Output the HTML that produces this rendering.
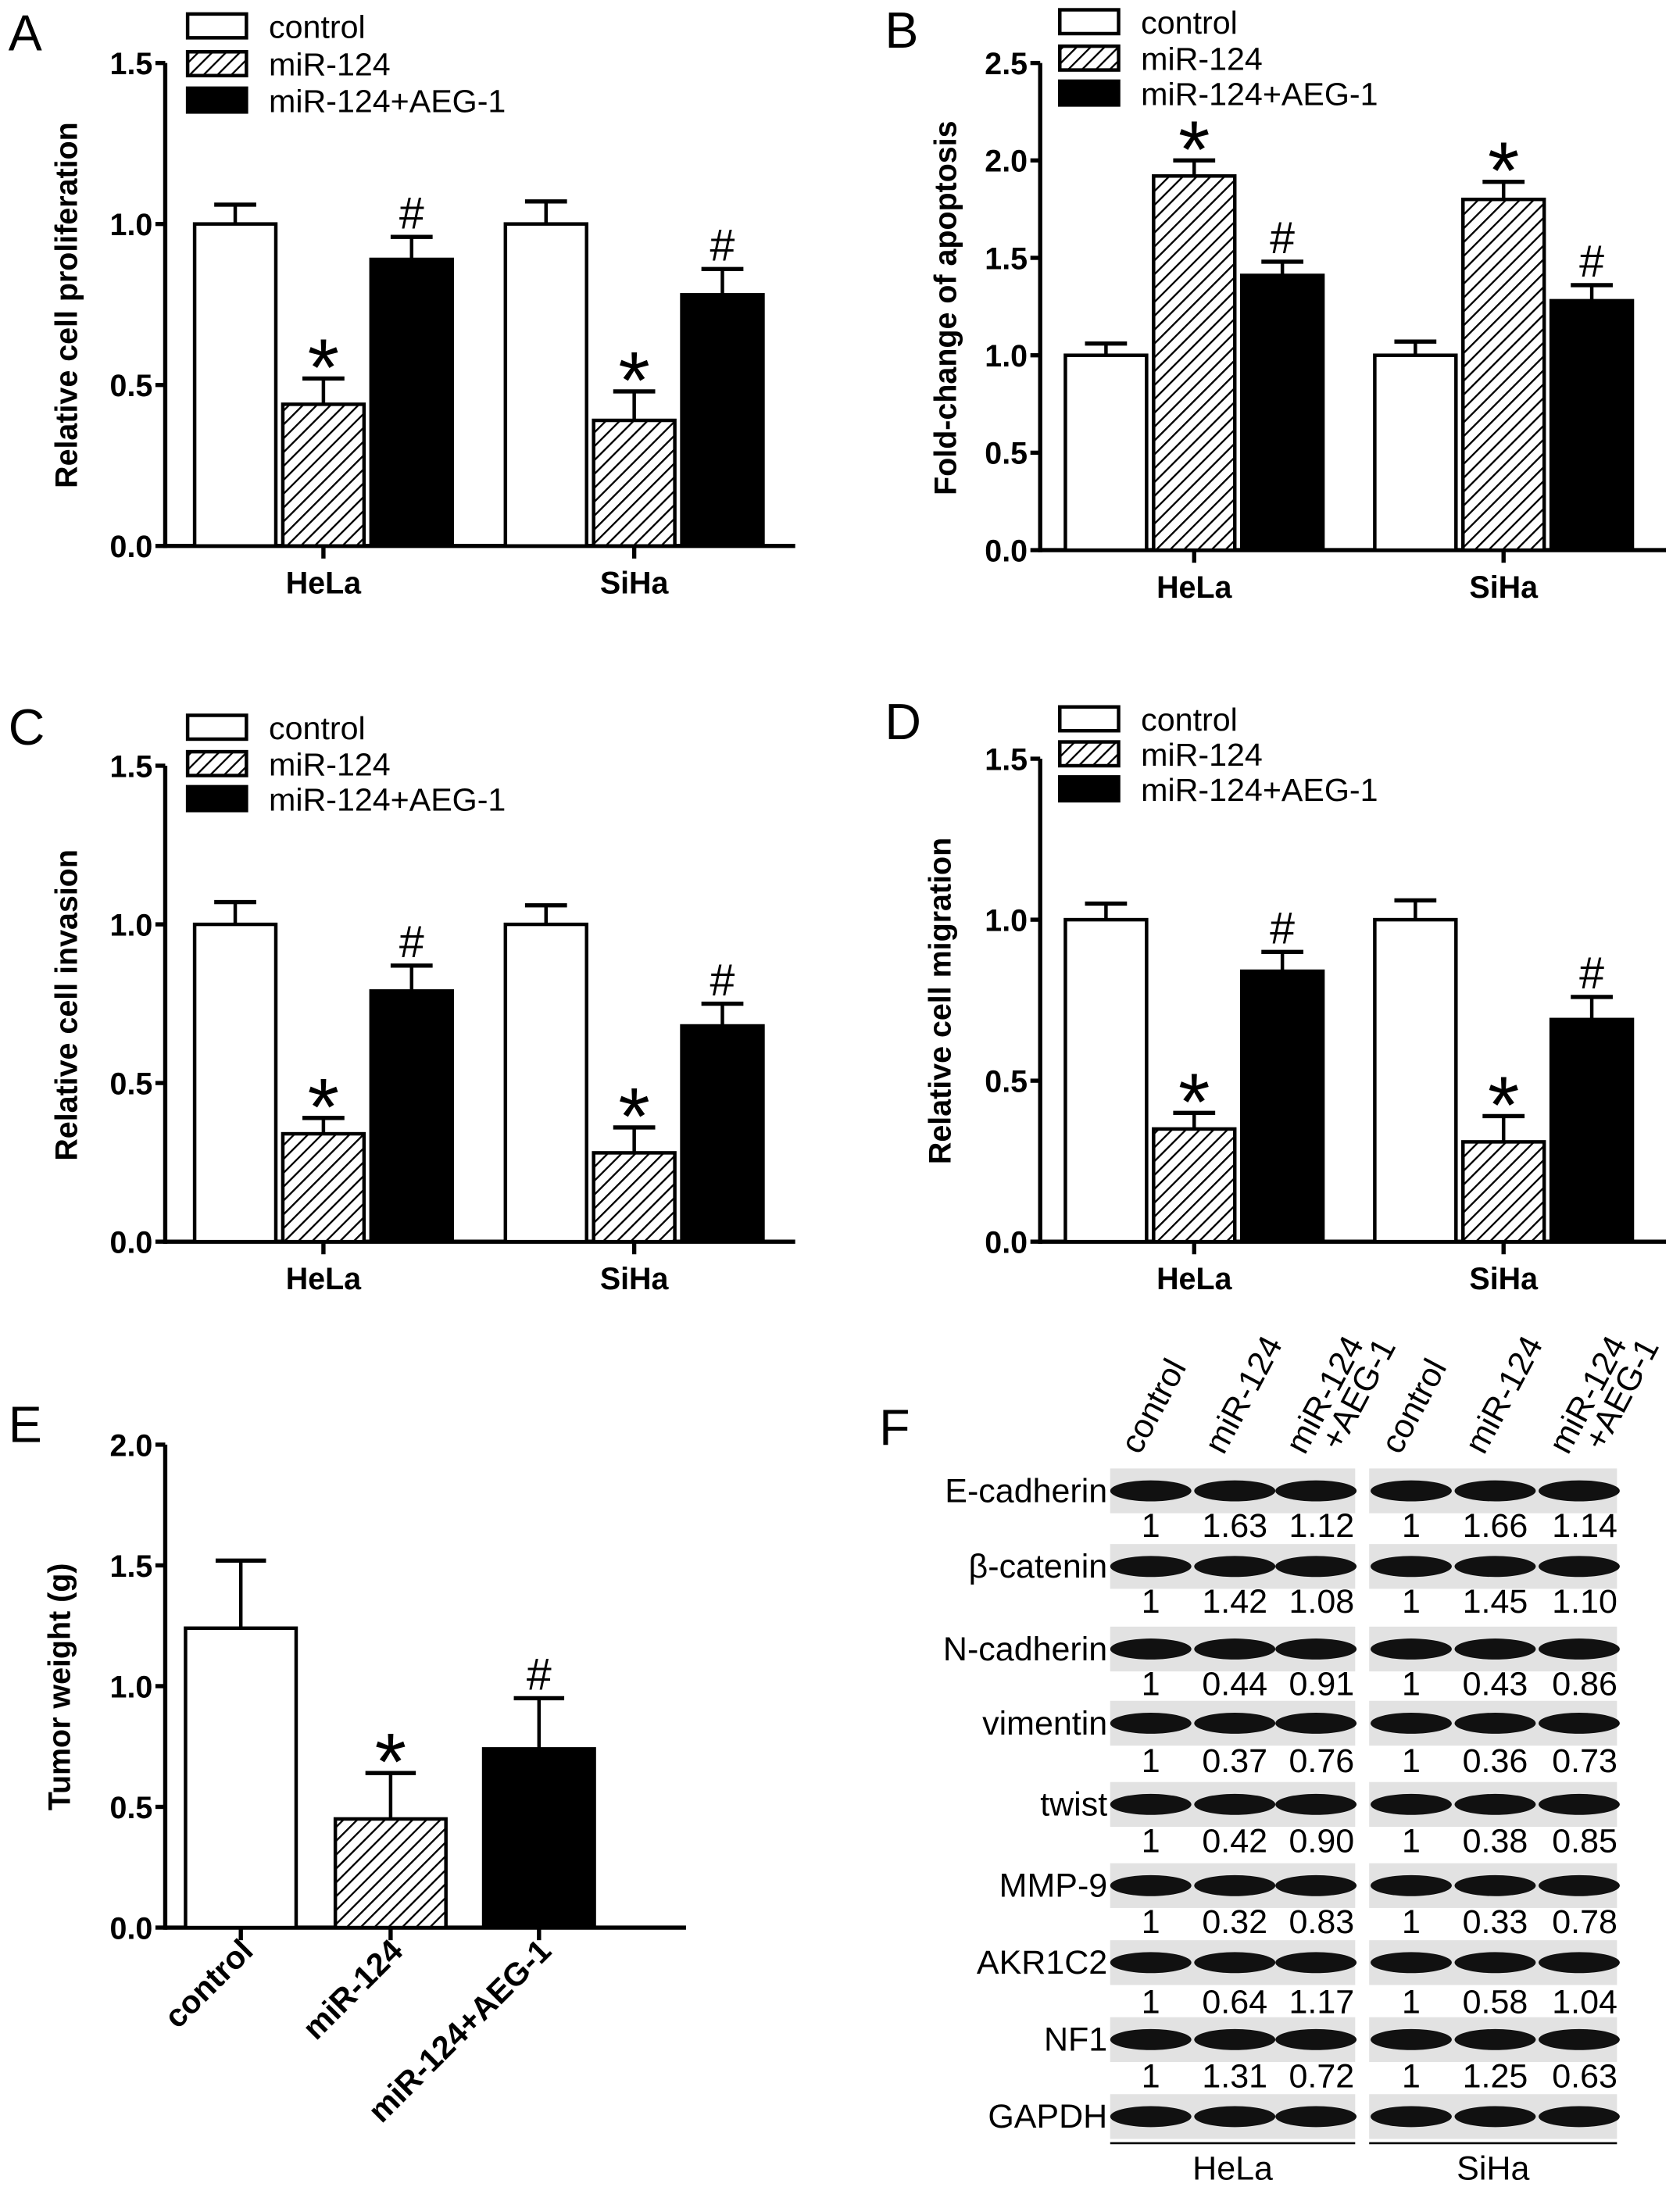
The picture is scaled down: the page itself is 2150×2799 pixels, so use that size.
<!DOCTYPE html>
<html><head><meta charset="utf-8"><style>
html,body{margin:0;padding:0;background:#fff;}
svg{display:block;}
text{font-family:"Liberation Sans",Arial,sans-serif;}
</style></head><body>
<svg id="fig" width="2150" height="2799" viewBox="0 0 1200 1562.3" xmlns="http://www.w3.org/2000/svg">
<defs>
<pattern id="hatch" patternUnits="userSpaceOnUse" width="7" height="7" patternTransform="rotate(45)">
<rect width="7" height="7" fill="#fff"/><line x1="0" y1="0" x2="0" y2="7" stroke="#000" stroke-width="2.6"/>
</pattern>
</defs>
<rect width="1200" height="1562.3" fill="#fff"/>
</svg>
<script>
// ---- data ----
const groups = ["HeLa", "SiHa"];
const seriesNames = ["control", "miR-124", "miR-124+AEG-1"];
const aValues = [[1.0, 0.44, 0.89], [1.0, 0.39, 0.78]];
const aErrors = [[0.06, 0.08, 0.07], [0.07, 0.09, 0.08]];
const bValues = [[1.0, 1.92, 1.41], [1.0, 1.80, 1.28]];
const bErrors = [[0.06, 0.08, 0.07], [0.07, 0.09, 0.08]];
const cValues = [[1.0, 0.34, 0.79], [1.0, 0.28, 0.68]];
const cErrors = [[0.07, 0.05, 0.08], [0.06, 0.08, 0.07]];
const dValues = [[1.0, 0.35, 0.84], [1.0, 0.31, 0.69]];
const dErrors = [[0.05, 0.05, 0.06], [0.06, 0.08, 0.07]];
const marks = ["", "*", "#"];
const ticks15 = ["0.0", "0.5", "1.0", "1.5"];
const ticks25 = ["0.0", "0.5", "1.0", "1.5", "2.0", "2.5"];
const ticks20 = ["0.0", "0.5", "1.0", "1.5", "2.0"];
const eCategories = ["control", "miR-124", "miR-124+AEG-1"];
const eValues = [1.24, 0.45, 0.74];
const eErrors = [0.28, 0.19, 0.21];
const blotProteins = ["E-cadherin", "β-catenin", "N-cadherin", "vimentin", "twist", "MMP-9", "AKR1C2", "NF1", "GAPDH"];
const blotHeLa = [["1","1.63","1.12"],["1","1.42","1.08"],["1","0.44","0.91"],["1","0.37","0.76"],["1","0.42","0.90"],["1","0.32","0.83"],["1","0.64","1.17"],["1","1.31","0.72"]];
const blotSiHa = [["1","1.66","1.14"],["1","1.45","1.10"],["1","0.43","0.86"],["1","0.36","0.73"],["1","0.38","0.85"],["1","0.33","0.78"],["1","0.58","1.04"],["1","1.25","0.63"]];

const svg = document.getElementById('fig');
const NS = "http://www.w3.org/2000/svg";
function mk(tag, attrs, parent) {
  const e = document.createElementNS(NS, tag);
  for (const k in attrs) e.setAttribute(k, attrs[k]);
  (parent || svg).appendChild(e);
  return e;
}
function txt(str, attrs, parent) { const t = mk('text', attrs, parent); t.textContent = str; return t; }
const fills = ["#fff", "url(#hatch)", "#000"];

function sigMark(g, m, cx, et) {
  const t = txt(m, {x: cx, y: m === '*' ? et + 12 : et - 6, 'font-size': m === '*' ? 58 : 32, 'text-anchor': 'middle'}, g);
  
  
}

function legend(g, x, ys) {
  seriesNames.forEach((n, i) => {
    const r = mk('rect', {x: x, y: ys[i], width: 42, height: 17, fill: fills[i], stroke: '#000', 'stroke-width': 2.5}, g);
    
    
    const t = txt(n, {x: x + 58, y: ys[i] + 17, 'font-size': 23}, g);
    
    
  });
}

function panel(cfg) {
  const g = mk('g', {});
  
  
  const L = txt(cfg.letter, {x: cfg.lx, y: cfg.ly, 'font-size': 36}, g);
  
  
  const ymax = parseFloat(cfg.ticks[cfg.ticks.length - 1]);
  const ys = v => cfg.y0 - (cfg.y0 - cfg.ytop) * v / ymax;
  const ya = mk('line', {x1: cfg.ax, y1: cfg.ytop, x2: cfg.ax, y2: cfg.y0 + 1.5, stroke: '#000', 'stroke-width': 3}, g);
  
  
  const xa = mk('line', {x1: cfg.ax, y1: cfg.y0, x2: cfg.axEnd, y2: cfg.y0, stroke: '#000', 'stroke-width': 3}, g);
  
  
  cfg.ticks.forEach(tk => {
    const y = ys(parseFloat(tk));
    mk('line', {x1: cfg.ax - 7, y1: y, x2: cfg.ax, y2: y, stroke: '#000', 'stroke-width': 3}, g);
    const t = txt(tk, {x: cfg.ax - 9, y: y + 8, 'font-size': 22, 'font-weight': 'bold', 'text-anchor': 'end'}, g);
    
    
  });
  const yt = txt(cfg.ytitle, {x: 0, y: 0, 'font-size': 22, 'font-weight': 'bold', 'text-anchor': 'middle', transform: `translate(${cfg.tx},${cfg.ty}) rotate(-90)`}, g);
  
  
  legend(g, cfg.legX, cfg.legY);
  const bw = 58, gap = 5;
  cfg.values.forEach((vals, gi) => {
    const cx = cfg.centers[gi];
    mk('line', {x1: cx, y1: cfg.y0, x2: cx, y2: cfg.y0 + 9, stroke: '#000', 'stroke-width': 3}, g);
    const gl = txt(groups[gi], {x: cx, y: cfg.y0 + 34, 'font-size': 22, 'font-weight': 'bold', 'text-anchor': 'middle'}, g);
    
    
    vals.forEach((v, si) => {
      const x = cx - 1.5 * bw - gap + si * (bw + gap);
      const top = ys(v), et = ys(v + cfg.errors[gi][si]);
      const bc = x + bw / 2;
      mk('line', {x1: bc, y1: top, x2: bc, y2: et, stroke: '#000', 'stroke-width': 2.5}, g);
      mk('line', {x1: bc - 15, y1: et, x2: bc + 15, y2: et, stroke: '#000', 'stroke-width': 3}, g);
      const r = mk('rect', {x: x, y: top, width: bw, height: cfg.y0 - top, fill: fills[si], stroke: '#000', 'stroke-width': 2.5}, g);
      
      
      if (marks[si]) sigMark(g, marks[si], bc, et);
    });
  });
}

panel({letter: 'A', lx: 6, ly: 36, ax: 118, axEnd: 568, y0: 390, ytop: 45, ticks: ticks15, ytitle: 'Relative cell proliferation', tx: 55, ty: 218, legX: 134, legY: [10, 37, 63], centers: [231, 453], values: aValues, errors: aErrors});
panel({letter: 'B', lx: 632, ly: 34, ax: 743, axEnd: 1190, y0: 393, ytop: 45, ticks: ticks25, ytitle: 'Fold-change of apoptosis', tx: 683, ty: 220, legX: 757, legY: [7, 33, 58], centers: [853, 1074], values: bValues, errors: bErrors});
panel({letter: 'C', lx: 6, ly: 532, ax: 118, axEnd: 568, y0: 887, ytop: 547, ticks: ticks15, ytitle: 'Relative cell invasion', tx: 55, ty: 718, legX: 134, legY: [511, 537, 562], centers: [231, 453], values: cValues, errors: cErrors});
panel({letter: 'D', lx: 632, ly: 528, ax: 743, axEnd: 1190, y0: 887, ytop: 542, ticks: ticks15, ytitle: 'Relative cell migration', tx: 679, ty: 715, legX: 757, legY: [505, 530, 555], centers: [853, 1074], values: dValues, errors: dErrors});

// ---- panel E ----
(function () {
  const g = mk('g', {});
  
  
  const L = txt('E', {x: 6, y: 1030, 'font-size': 36}, g);
  
  
  const ax = 118, y0 = 1377, ytop = 1032, ymax = 2.0;
  const ys = v => y0 - (y0 - ytop) * v / ymax;
  const ya = mk('line', {x1: ax, y1: ytop, x2: ax, y2: y0 + 1.5, stroke: '#000', 'stroke-width': 3}, g);
  
  
  const xa = mk('line', {x1: ax, y1: y0, x2: 490, y2: y0, stroke: '#000', 'stroke-width': 3}, g);
  
  
  ticks20.forEach(tk => {
    const y = ys(parseFloat(tk));
    mk('line', {x1: ax - 7, y1: y, x2: ax, y2: y, stroke: '#000', 'stroke-width': 3}, g);
    const t = txt(tk, {x: ax - 9, y: y + 8, 'font-size': 22, 'font-weight': 'bold', 'text-anchor': 'end'}, g);
    
    
  });
  const yt = txt('Tumor weight (g)', {x: 0, y: 0, 'font-size': 22, 'font-weight': 'bold', 'text-anchor': 'middle', transform: 'translate(50,1205) rotate(-90)'}, g);
  
  
  const centers = [172, 279, 385], bw = 79;
  eValues.forEach((v, i) => {
    const cx = centers[i], x = cx - bw / 2, top = ys(v), et = ys(v + eErrors[i]);
    mk('line', {x1: cx, y1: top, x2: cx, y2: et, stroke: '#000', 'stroke-width': 2.5}, g);
    mk('line', {x1: cx - 18, y1: et, x2: cx + 18, y2: et, stroke: '#000', 'stroke-width': 3}, g);
    const r = mk('rect', {x: x, y: top, width: bw, height: y0 - top, fill: fills[i], stroke: '#000', 'stroke-width': 2.5}, g);
    
    
    mk('line', {x1: cx, y1: y0, x2: cx, y2: y0 + 9, stroke: '#000', 'stroke-width': 3}, g);
    const cl = txt(eCategories[i], {x: 0, y: 0, 'font-size': 23, 'font-weight': 'bold', 'text-anchor': 'end', transform: `translate(${cx + 10},${y0 + 18}) rotate(-45)`}, g);
    
    
    if (marks[i]) sigMark(g, marks[i], cx, et);
  });
})();

// ---- panel F (western blot) ----
(function () {
  const g = mk('g', {});
  
  
  const L = txt('F', {x: 628, y: 1032, 'font-size': 36}, g);
  
  
  const panels = [{x: 793, w: 175, lanes: [822, 882, 940], nums: blotHeLa, name: 'HeLa'},
                  {x: 978, w: 177, lanes: [1008, 1068, 1128], nums: blotSiHa, name: 'SiHa'}];
  const rowY = [1065, 1119, 1178, 1231, 1289, 1347, 1402, 1457, 1512];
  const numY = [1098, 1152, 1211, 1266, 1323, 1381, 1438, 1491];
  panels.forEach(p => {
    const hdr = [['control'], ['miR-124'], ['miR-124', '+AEG-1']];
    p.lanes.forEach((lx, i) => {
      const t = mk('text', {x: 0, y: 0, 'font-size': 24, transform: `translate(${lx - 8},${1040}) rotate(-62)`}, g);
      
      
      hdr[i].forEach((s, k) => {
        const ts = mk('tspan', {x: k ? 14 : 0, dy: k ? 21 : 0}, t);
        ts.textContent = s;
      });
    });
    rowY.forEach((y, r) => {
      const bg = mk('rect', {x: p.x, y: y - 16, width: p.w, height: 32, fill: '#e2e2e2'}, g);
      
      
      p.lanes.forEach(lx => {
        const b = mk('ellipse', {cx: lx, cy: y, rx: 29, ry: 7.5, fill: '#111'}, g);
        
        
      });
      if (r < p.nums.length) {
        p.nums[r].forEach((n, i) => {
          const t = txt(n, {x: p.lanes[i] + (i === 2 ? 4 : 0), y: numY[r], 'font-size': 24, 'text-anchor': 'middle'}, g);
          
          
        });
      }
    });
    mk('line', {x1: p.x, y1: 1531, x2: p.x + p.w, y2: 1531, stroke: '#000', 'stroke-width': 1.5}, g);
    const cl = txt(p.name, {x: p.x + p.w / 2, y: 1557, 'font-size': 24, 'text-anchor': 'middle'}, g);
    
    
  });
  blotProteins.forEach((n, r) => {
    const t = txt(n, {x: 791, y: rowY[r] + 8, 'font-size': 24, 'text-anchor': 'end'}, g);
    
    
  });
})();
</script>
</body></html>
